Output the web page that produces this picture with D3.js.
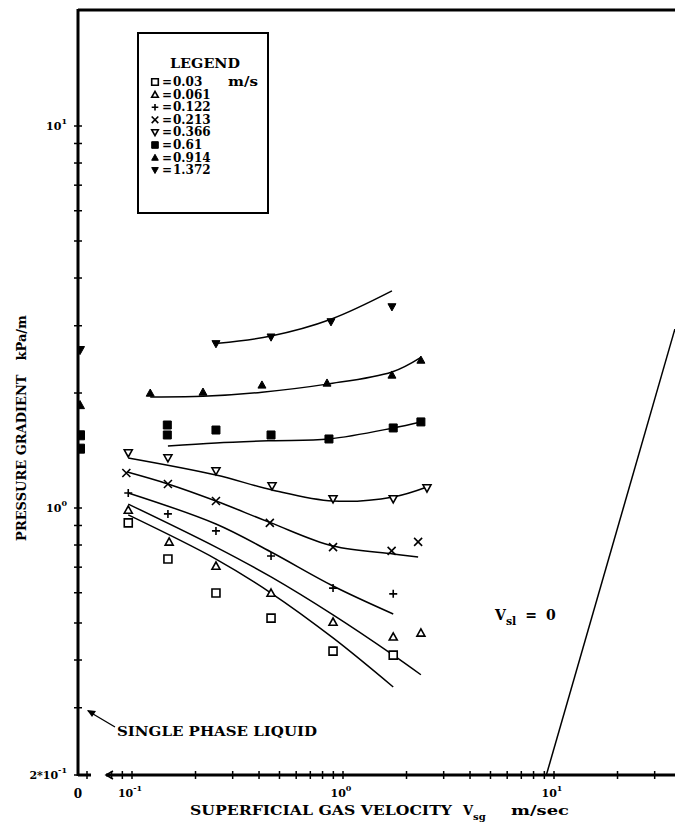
<!DOCTYPE html>
<html>
<head>
<meta charset="UTF-8">
<title>Pressure gradient vs superficial gas velocity</title>
<script src="https://d3js.org/d3.v7.min.js"></script>
<style>
    body { margin: 0; background: #fff; }
    text { font-family: "DejaVu Serif", "Liberation Serif", serif; font-weight: bold; fill: #000; }
    .fit { fill: none; stroke: #000; stroke-width: 1.5px; }
</style>
</head>
<body>
<script>
// liquid velocities (legend) and their symbols
const liquidLabels = ["0.03", "0.061", "0.122", "0.213", "0.366", "0.61", "0.914", "1.372"];
const symbolNames = ["square", "triUp", "plus", "cross", "triDown", "squareFilled", "triUpFilled", "triDownFilled"];

// measured points [Vsg m/s, dp/dx kPa/m]
const pts003 = [[0.096, 0.914], [0.148, 0.735], [0.25, 0.599], [0.456, 0.515], [0.897, 0.422], [1.73, 0.412]];
const pts0061 = [[0.096, 0.988], [0.150, 0.815], [0.25, 0.705], [0.456, 0.599], [0.897, 0.503], [1.73, 0.46], [2.34, 0.471]];
const pts0122 = [[0.096, 1.095], [0.148, 0.965], [0.25, 0.871], [0.456, 0.749], [0.897, 0.617], [1.73, 0.596]];
const pts0213 = [[0.094, 1.235], [0.148, 1.156], [0.25, 1.043], [0.45, 0.914], [0.897, 0.79], [1.70, 0.772], [2.27, 0.815]];
const pts0366 = [[0.096, 1.393], [0.148, 1.352], [0.25, 1.25], [0.461, 1.142], [0.897, 1.056], [1.73, 1.056], [2.5, 1.128]];
const pts061 = [[0.147, 1.649], [0.147, 1.553], [0.25, 1.6], [0.456, 1.553], [0.858, 1.516], [1.73, 1.62], [2.34, 1.68]];
const pts0914 = [[0.122, 2.0], [0.217, 2.012], [0.413, 2.1], [0.84, 2.125], [1.706, 2.23], [2.34, 2.44]];
const pts1372 = [[0.25, 2.69], [0.456, 2.80], [0.877, 3.07], [1.706, 3.36]];

// fitted curves
const fit003 = [[0.096, 0.959], [0.25, 0.735], [0.456, 0.599], [0.897, 0.457], [1.73, 0.34]];
const fit0061 = [[0.096, 1.024], [0.25, 0.79], [0.456, 0.66], [0.897, 0.525], [1.73, 0.412], [2.34, 0.366]];
const fit0122 = [[0.096, 1.095], [0.25, 0.908], [0.456, 0.767], [0.897, 0.625], [1.73, 0.528]];
const fit0213 = [[0.095, 1.242], [0.148, 1.156], [0.25, 1.043], [0.456, 0.914], [0.897, 0.795], [1.73, 0.758], [2.27, 0.744]];
const fit0366 = [[0.096, 1.352], [0.25, 1.22], [0.461, 1.115], [0.897, 1.043], [1.73, 1.069], [2.5, 1.135]];
const fit061 = [[0.148, 1.453], [0.25, 1.48], [0.456, 1.50], [0.858, 1.516], [1.73, 1.62], [2.34, 1.68]];
const fit0914 = [[0.122, 1.953], [0.217, 1.96], [0.413, 2.01], [0.84, 2.11], [1.706, 2.27], [2.34, 2.48]];
const fit1372 = [[0.256, 2.70], [0.456, 2.82], [0.877, 3.12], [1.706, 3.70]];

// single phase liquid (Vsg = 0) points
const singlePhase = [["triDownFilled", 2.59], ["triUpFilled", 1.86], ["squareFilled", 1.55], ["squareFilled", 1.43]];

// Vsl = 0 (gas only) line
const gasOnly = [[9.2, 0.2], [37.4, 2.94]];

// ticks
const xTicks = [0.08, 0.09, 0.1, 0.2, 0.3, 0.4, 0.5, 0.6, 0.7, 0.8, 0.9, 1, 2, 3, 4, 5, 6, 7, 8, 9, 10, 20, 30];
const yTicks = [0.2, 0.3, 0.4, 0.5, 0.6, 0.7, 0.8, 0.9, 1, 2, 3, 4, 5, 6, 7, 8, 9, 10];
const xTickLabels = [[0.1, "10", "-1"], [1, "10", "0"], [10, "10", "1"]];
const yTickLabels = [[10, "10", "1"], [1, "10", "0"], [0.2, "2*10", "-1"]];

const seriesPoints = [pts003, pts0061, pts0122, pts0213, pts0366, pts061, pts0914, pts1372];
const seriesFits = [fit003, fit0061, fit0122, fit0213, fit0366, fit061, fit0914, fit1372];

const W = 675, H = 826;
const pLeft = 78, pTop = 10, pRight = 675, pBottom = 775;

const x = d3.scaleLog().domain([0.1, 10]).range([132, 554]);
const y = d3.scaleLog().domain([0.2, 10]).range([pBottom, 126]);

const svg = d3.select("body").append("svg")
    .attr("width", W).attr("height", H);

svg.append("defs").append("clipPath").attr("id", "plot")
    .append("rect").attr("x", pLeft).attr("y", pTop).attr("width", pRight - pLeft).attr("height", pBottom - pTop);

// symbol path, centred on 0,0
function symbolPath(name, r) {
    if (name.startsWith("square")) return `M${-r},${-r}H${r}V${r}H${-r}Z`;
    if (name.startsWith("triUp")) return `M0,${-r}L${r},${r * 0.8}L${-r},${r * 0.8}Z`;
    if (name.startsWith("triDown")) return `M0,${r}L${r},${-r * 0.8}L${-r},${-r * 0.8}Z`;
    if (name === "plus") return `M${-r},0H${r}M0,${-r}V${r}`;
    if (name === "cross") return `M${-r},${-r}L${r},${r}M${r},${-r}L${-r},${r}`;
}
function drawSymbol(g, name, cx, cy, r) {
    const filled = name.endsWith("Filled");
    const open = name === "plus" || name === "cross";
    g.append("path")
        .attr("d", symbolPath(name, r))
        .attr("transform", `translate(${cx},${cy})`)
        .attr("fill", filled ? "#000" : (open ? "none" : "#fff"))
        .attr("stroke", "#000")
        .attr("stroke-width", filled ? 1 : 1.6);
}

const plot = svg.append("g").attr("clip-path", "url(#plot)");

// fitted curves
const line = d3.line().x(d => x(d[0])).y(d => y(d[1])).curve(d3.curveCatmullRom.alpha(0.5));
seriesFits.forEach(f => plot.append("path").attr("class", "fit").attr("d", line(f)));

// gas-only line
plot.append("path").attr("class", "fit").attr("d", d3.line().x(d => x(d[0])).y(d => y(d[1]))(gasOnly));

// points
seriesPoints.forEach((pts, i) => {
    pts.forEach(p => drawSymbol(plot, symbolNames[i], x(p[0]), y(p[1]), 4));
});

// single phase markers sitting on the axis
singlePhase.forEach(p => drawSymbol(plot, p[0], pLeft + 2, y(p[1]), 4.5));

// axes
const axes = svg.append("g").attr("stroke", "#000");
axes.append("line").attr("x1", pLeft).attr("x2", pLeft).attr("y1", pTop - 1).attr("y2", pBottom + 1).attr("stroke-width", 3);
axes.append("line").attr("x1", pLeft).attr("x2", pRight).attr("y1", pTop).attr("y2", pTop).attr("stroke-width", 3);
// x axis, broken between 0 and the log part
axes.append("line").attr("x1", pLeft).attr("x2", pLeft + 13).attr("y1", pBottom).attr("y2", pBottom).attr("stroke-width", 3);
axes.append("line").attr("x1", pLeft + 9).attr("x2", pLeft + 9).attr("y1", pBottom - 4).attr("y2", pBottom + 4).attr("stroke-width", 1.5);
axes.append("line").attr("x1", 106).attr("x2", pRight).attr("y1", pBottom).attr("y2", pBottom).attr("stroke-width", 3);
axes.append("path").attr("d", `M113,${pBottom - 4}L106,${pBottom}L113,${pBottom + 4}`).attr("fill", "none").attr("stroke-width", 1.5);

xTicks.forEach(v => axes.append("line")
    .attr("x1", x(v)).attr("x2", x(v)).attr("y1", pBottom - 4).attr("y2", pBottom + 4).attr("stroke-width", 1.5));
yTicks.forEach(v => axes.append("line")
    .attr("x1", pLeft - 4).attr("x2", pLeft + 4).attr("y1", y(v)).attr("y2", y(v)).attr("stroke-width", 1.5));

// tick labels
function powLabel(t, base, exp) {
    t.append("tspan").text(base);
    t.append("tspan").attr("dy", -6).attr("font-size", 8).text(exp);
}
yTickLabels.forEach(d => {
    const t = svg.append("text").attr("x", 67).attr("y", y(d[0]) + 4)
        .attr("text-anchor", "end").attr("font-size", 11);
    powLabel(t, d[1], d[2]);
});
svg.append("text").attr("x", pLeft).attr("y", pBottom + 23).attr("text-anchor", "middle")
    .attr("font-size", 12).attr("font-weight", "normal").text("0");
xTickLabels.forEach(d => {
    const t = svg.append("text").attr("x", x(d[0]) - 2).attr("y", pBottom + 22)
        .attr("text-anchor", "middle").attr("font-size", 11);
    powLabel(t, d[1], d[2]);
});

// axis titles
const yt = svg.append("text").attr("transform", "translate(26,428) rotate(-90)")
    .attr("text-anchor", "middle").attr("font-size", 13).attr("font-weight", "normal");
yt.append("tspan").text("PRESSURE GRADIENT");
yt.append("tspan").attr("dx", 14).text("kPa/m");

svg.append("text").attr("x", 190).attr("y", pBottom + 40).attr("font-size", 13)
    .attr("textLength", 262).attr("lengthAdjust", "spacingAndGlyphs").text("SUPERFICIAL GAS VELOCITY");
const vsg = svg.append("text").attr("x", 463).attr("y", pBottom + 40).attr("font-size", 13);
vsg.append("tspan").text("V");
vsg.append("tspan").attr("dy", 5).attr("font-size", 10).text("sg");
svg.append("text").attr("x", 511).attr("y", pBottom + 40).attr("font-size", 13)
    .attr("textLength", 58).attr("lengthAdjust", "spacingAndGlyphs").text("m/sec");

// annotations
const vs = svg.append("text").attr("x", 495).attr("y", 620).attr("font-size", 14);
vs.append("tspan").text("V");
vs.append("tspan").attr("dy", 5).attr("font-size", 11).text("sl");
vs.append("tspan").attr("dy", -5).attr("dx", 9).text("=");
vs.append("tspan").attr("dx", 9).text("0");

svg.append("text").attr("x", 117).attr("y", 736).attr("font-size", 13)
    .attr("textLength", 200).attr("lengthAdjust", "spacingAndGlyphs").text("SINGLE PHASE LIQUID");
svg.append("path").attr("d", "M115,727L88,711").attr("stroke", "#000").attr("stroke-width", 1.3).attr("fill", "none");
svg.append("path").attr("d", "M87,710L96,711L92,717Z").attr("fill", "#000");

// legend
const lg = svg.append("g");
lg.append("rect").attr("x", 138).attr("y", 33).attr("width", 130).attr("height", 180)
    .attr("fill", "#fff").attr("stroke", "#000").attr("stroke-width", 2);
lg.append("text").attr("x", 205).attr("y", 68).attr("text-anchor", "middle").attr("font-size", 12)
    .attr("textLength", 70).attr("lengthAdjust", "spacingAndGlyphs").text("LEGEND");
liquidLabels.forEach((lab, i) => {
    const cy = 82 + i * 12.6;
    drawSymbol(lg, symbolNames[i], 155, cy, 3.3);
    lg.append("text").attr("x", 162).attr("y", cy + 4).attr("font-size", 12).text("=");
    lg.append("text").attr("x", 173).attr("y", cy + 4).attr("font-size", 12).text(lab);
    if (i === 0) lg.append("text").attr("x", 228).attr("y", cy + 4).attr("font-size", 12)
        .attr("textLength", 30).attr("lengthAdjust", "spacingAndGlyphs").text("m/s");
});
</script>
</body>
</html>
